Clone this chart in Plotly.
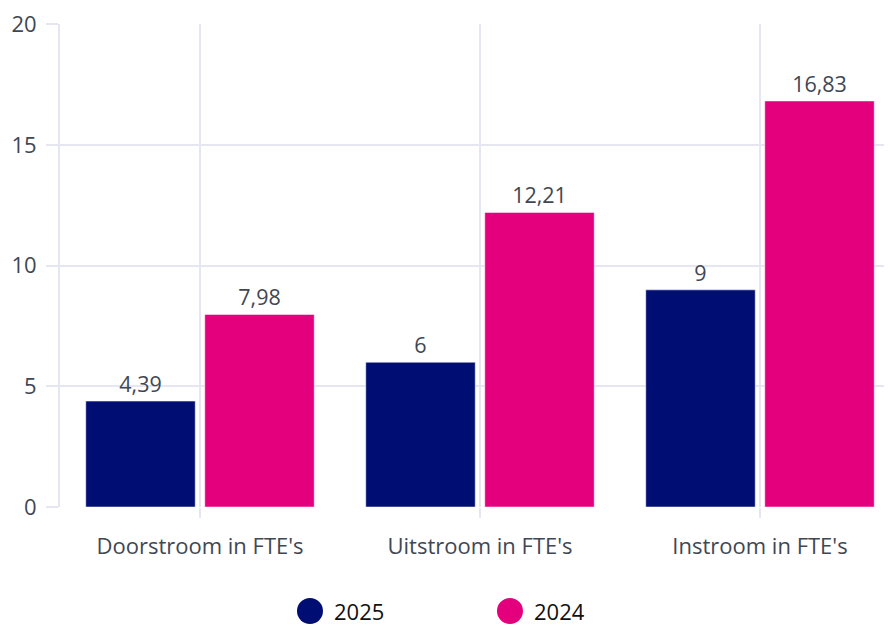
import plotly.graph_objects as go

categories = ["Doorstroom in FTE's", "Uitstroom in FTE's", "Instroom in FTE's"]
series_names = ["2025", "2024"]
values_2025 = [4.39, 6, 9]
values_2024 = [7.98, 12.21, 16.83]
y_ticks = [0, 5, 10, 15, 20]

colors = {"2025": "#000e73", "2024": "#e4007c"}
grid = "#e6e6f2"
txt = "#3f4753"

fig = go.Figure()
for name, vals in zip(series_names, [values_2025, values_2024]):
    fig.add_trace(go.Bar(
        x=categories, y=vals, name=name,
        marker=dict(color=colors[name], line=dict(color="rgba(255,255,255,0.5)", width=1)),
        texttemplate="%{y}", textposition="outside", cliponaxis=False,
        textfont=dict(size=21.5, color=txt), showlegend=False,
    ))

# legend drawn by hand: plotly caps legend marker size, reference uses big dots
legend_x = [0.2976, 0.5357]
for name, lx in zip(series_names, legend_x):
    fig.add_shape(type="circle", xref="paper", yref="paper",
                  xsizemode="pixel", ysizemode="pixel", xanchor=lx, yanchor=-0.2153,
                  x0=-13, x1=13, y0=-13, y1=13,
                  fillcolor=colors[name], line=dict(color=colors[name], width=0))
    fig.add_annotation(x=lx + 0.0275, y=-0.2153, xref="paper", yref="paper",
                       text=name, showarrow=False, xanchor="left", yanchor="middle",
                       height=24, borderpad=0,
                       font=dict(size=22, color="#111111"))

fig.update_layout(
    width=892, height=624,
    margin=dict(l=52, r=0, t=16, b=125),
    paper_bgcolor="white", plot_bgcolor="white",
    font=dict(family="Open Sans", size=22, color=txt),
    separators=",.",
    barmode="group", bargap=0.15, bargroupgap=0.08,
    showlegend=False,
    xaxis=dict(range=[-0.5, 2.5], showgrid=True, gridcolor=grid, gridwidth=2,
               ticks="outside", ticklen=10, tickcolor=grid, tickwidth=2,
               ticklabelstandoff=10,
               showline=False, zeroline=False, automargin=False),
    yaxis=dict(range=[0, 20.02], tickvals=y_ticks, showgrid=True, gridcolor=grid, gridwidth=2,
               ticks="outside", ticklen=12, tickcolor=grid, tickwidth=2,
               ticklabelstandoff=5,
               showline=True, linecolor=grid, linewidth=2, zeroline=False, automargin=False),
)

fig.write_html("out.html")
